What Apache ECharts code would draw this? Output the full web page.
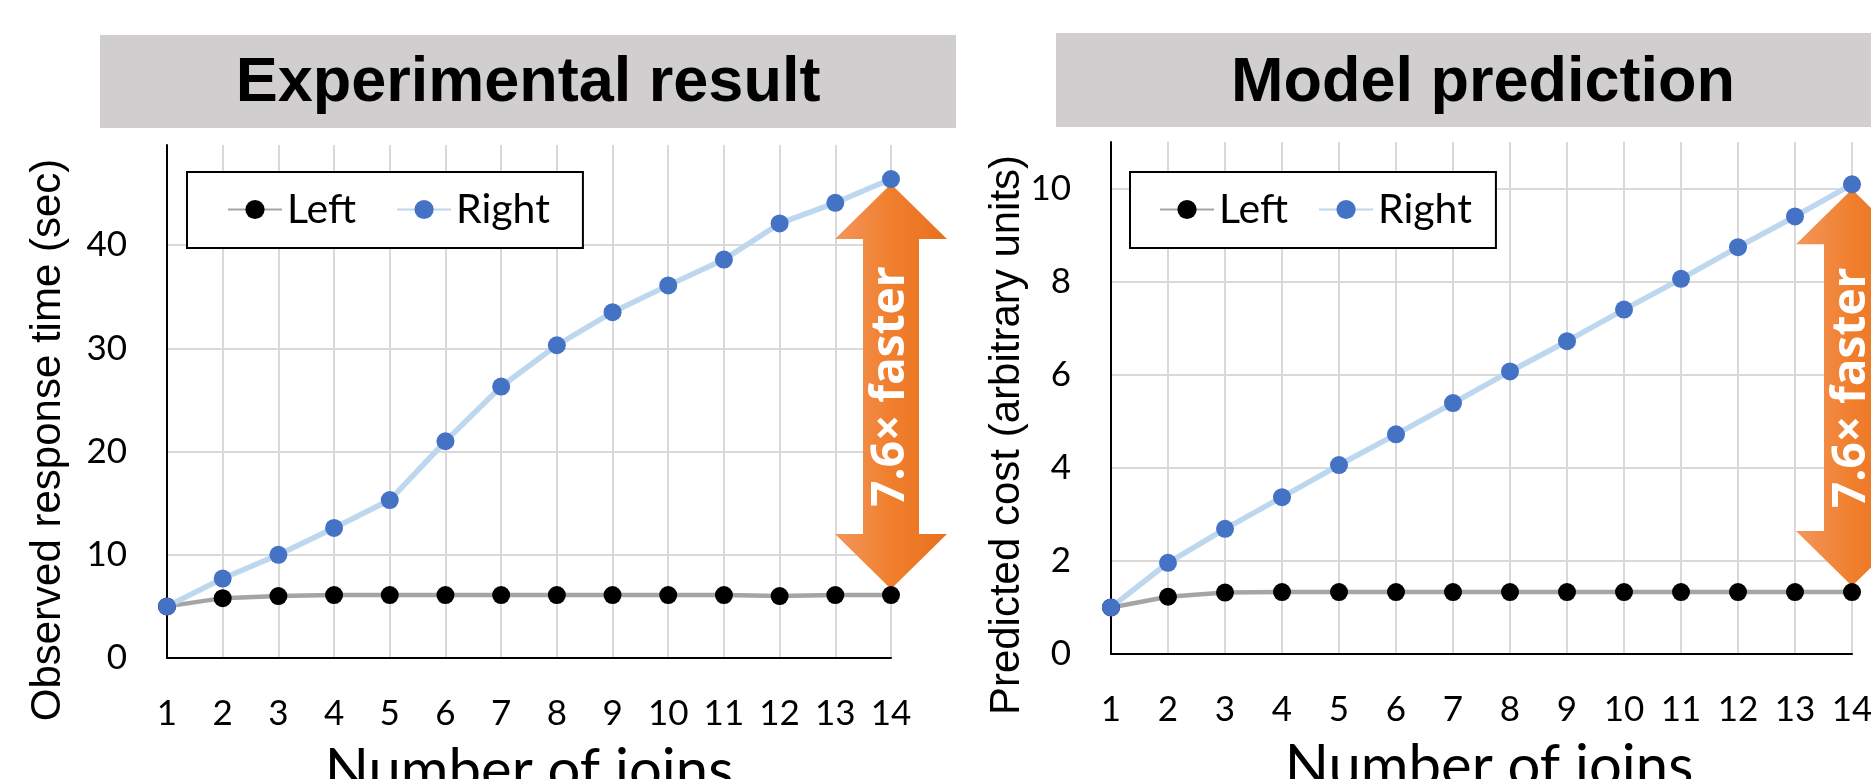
<!DOCTYPE html>
<html>
<head>
<meta charset="utf-8">
<script src="https://cdn.jsdelivr.net/npm/echarts@6/dist/echarts.min.js"></script>
<style>
html,body{margin:0;padding:0;background:#ffffff;}
#chart{width:1871px;height:779px;}
</style>
</head>
<body>
<div id="chart"></div>
<script>
// ---------- data ----------
const joins = ['1','2','3','4','5','6','7','8','9','10','11','12','13','14'];
const expLeft  = [5.0, 5.8, 6.0, 6.1, 6.1, 6.1, 6.1, 6.1, 6.1, 6.1, 6.1, 6.0, 6.1, 6.1];
const expRight = [5.0, 7.7, 10.0, 12.6, 15.3, 21.0, 26.3, 30.3, 33.5, 36.1, 38.6, 42.1, 44.1, 46.4];
const modelLeft  = [1.0, 1.23, 1.32, 1.33, 1.33, 1.33, 1.33, 1.33, 1.33, 1.33, 1.33, 1.33, 1.33, 1.33];
const modelRight = [1.0, 1.96, 2.69, 3.37, 4.06, 4.72, 5.39, 6.07, 6.72, 7.40, 8.06, 8.74, 9.40, 10.09];
const seriesNames = ['Left', 'Right'];
const panelTitles = ['Experimental result', 'Model prediction'];
const yAxisNames = ['Observed response time (sec)', 'Predicted cost (arbitrary units)'];
const xAxisName = 'Number of joins';
const speedupLabel = '7.6\u00d7 faster';

// ---------- styles ----------
const GRID_COLOR = '#D9D9D9';
const LEFT_LINE = '#A5A5A5', LEFT_MARK = '#000000';
const RIGHT_LINE = '#BDD7EE', RIGHT_MARK = '#4472C4';
const TICK_FONT = 'Lato';

const chart = echarts.init(document.getElementById('chart'), null, {renderer: 'canvas'});

function arrowRenderer(params, api) {
  const top = api.coord([api.value(0), api.value(1)]);
  const bot = api.coord([api.value(0), api.value(2)]);
  const cx = top[0];
  const y1 = top[1] + 5, y2 = bot[1] - 6;
  const hw = 56, sw = 28, hh = 55;
  const pts = [
    [cx, y1], [cx + hw, y1 + hh], [cx + sw, y1 + hh], [cx + sw, y2 - hh],
    [cx + hw, y2 - hh], [cx, y2], [cx - hw, y2 - hh], [cx - sw, y2 - hh],
    [cx - sw, y1 + hh], [cx - hw, y1 + hh]
  ];
  return {
    type: 'group',
    children: [
      {
        type: 'polygon',
        shape: {points: pts},
        style: {
          fill: new echarts.graphic.LinearGradient(0, 0, 1, 0, [
            {offset: 0, color: '#F3965C'},
            {offset: 0.5, color: '#F07F2D'},
            {offset: 1, color: '#E8701D'}
          ]),
          stroke: null
        }
      },
      {
        type: 'text',
        x: cx,
        y: (y1 + y2) / 2,
        rotation: Math.PI / 2,
        style: {
          text: speedupLabel,
          fill: '#ffffff',
          font: 'bold 46px "Open Sans"',
          align: 'center',
          verticalAlign: 'middle'
        }
      }
    ]
  };
}

function makeX(gridIndex, namePad) {
  return {
    type: 'category', gridIndex: gridIndex, data: joins, boundaryGap: false,
    axisLine: {show: true, onZero: false, lineStyle: {color: '#000', width: 2}},
    axisTick: {show: false},
    axisLabel: {interval: 0, margin: 38, color: '#000', fontFamily: TICK_FONT, fontSize: 35},
    splitLine: {show: true, interval: 0, lineStyle: {color: GRID_COLOR, width: 2}},
    name: xAxisName, nameLocation: 'middle', nameGap: 84, nameMoveOverlap: false,
    nameTextStyle: {color: '#000', fontFamily: TICK_FONT, fontSize: 58, padding: namePad}
  };
}

function makeY(gridIndex, max, interval, name, nameGap, nameShift) {
  return {
    type: 'value', gridIndex: gridIndex, min: 0, max: max, interval: interval,
    axisLine: {show: true, lineStyle: {color: '#000', width: 2}},
    axisTick: {show: false},
    axisLabel: {margin: 40, color: '#000', fontFamily: TICK_FONT, fontSize: 35, showMaxLabel: false},
    splitLine: {show: true, showMaxLine: false, lineStyle: {color: GRID_COLOR, width: 2}},
    name: name, nameLocation: 'middle', nameRotate: 90, nameGap: nameGap, nameMoveOverlap: false,
    nameTextStyle: {color: '#000', fontFamily: 'Liberation Sans', fontSize: 42, padding: [0, nameShift, 0, 0]}
  };
}

function lineSeries(name, data, gi, lineColor, markColor, width, z) {
  return {
    name: name, type: 'line', xAxisIndex: gi, yAxisIndex: gi, data: data,
    symbol: 'circle', symbolSize: 18, showSymbol: true,
    itemStyle: {color: markColor, borderWidth: 0},
    lineStyle: {color: lineColor, width: width},
    z: z, animation: false
  };
}

function legendFor(left, gap, pad) {
  return {
    show: true, left: left, top: 172, orient: 'horizontal', data: seriesNames,
    itemWidth: 54, itemHeight: 24, itemGap: gap, padding: pad,
    borderColor: '#000', borderWidth: 2, backgroundColor: '#ffffff',
    selectedMode: false,
    textStyle: {color: '#000', fontFamily: TICK_FONT, fontSize: 41}
  };
}

const option = {
  backgroundColor: '#ffffff',
  animation: false,
  grid: [
    {left: 167, top: 145, width: 724, height: 513, outerBoundsMode: 'none', containLabel: false},
    {left: 1111, top: 142, width: 741, height: 512, outerBoundsMode: 'none', containLabel: false}
  ],
  xAxis: [makeX(0, [0, 0, 0, 0]), makeX(1, [0, 0, 0, 15])],
  yAxis: [
    makeY(0, 49.7, 10, yAxisNames[0], 98, 77),
    makeY(1, 11, 2, yAxisNames[1], 83, 74)
  ],
  legend: [
    legendFor(187, 40, [17, 33, 18, 40]),
    legendFor(1130, 30, [17, 24, 18, 29])
  ],
  graphic: [
    {type: 'rect', shape: {x: 100, y: 35, width: 856, height: 93}, style: {fill: '#D0CECE'}, z: -1},
    {type: 'text', x: 528, y: 84, style: {text: panelTitles[0], fill: '#000', font: 'bold 63px "Liberation Sans"', align: 'center', verticalAlign: 'middle'}},
    {type: 'rect', shape: {x: 1056, y: 33, width: 900, height: 94}, style: {fill: '#D0CECE'}, z: -1},
    {type: 'text', x: 1483, y: 84, style: {text: panelTitles[1], fill: '#000', font: 'bold 63px "Liberation Sans"', align: 'center', verticalAlign: 'middle'}}
  ],
  series: [
    {type: 'custom', xAxisIndex: 0, yAxisIndex: 0, clip: false, silent: true, z: 1,
     data: [[joins.length - 1, expRight[expRight.length - 1], expLeft[expLeft.length - 1]]],
     encode: {x: 0, y: [1, 2]}, renderItem: arrowRenderer},
    lineSeries(seriesNames[0], expLeft, 0, LEFT_LINE, LEFT_MARK, 4.5, 3),
    lineSeries(seriesNames[1], expRight, 0, RIGHT_LINE, RIGHT_MARK, 5.5, 4),
    {type: 'custom', xAxisIndex: 1, yAxisIndex: 1, clip: false, silent: true, z: 1,
     data: [[joins.length - 1, modelRight[modelRight.length - 1], modelLeft[modelLeft.length - 1]]],
     encode: {x: 0, y: [1, 2]}, renderItem: arrowRenderer},
    lineSeries(seriesNames[0], modelLeft, 1, LEFT_LINE, LEFT_MARK, 4.5, 3),
    lineSeries(seriesNames[1], modelRight, 1, RIGHT_LINE, RIGHT_MARK, 5.5, 4)
  ]
};
chart.setOption(option);
</script>
</body>
</html>
